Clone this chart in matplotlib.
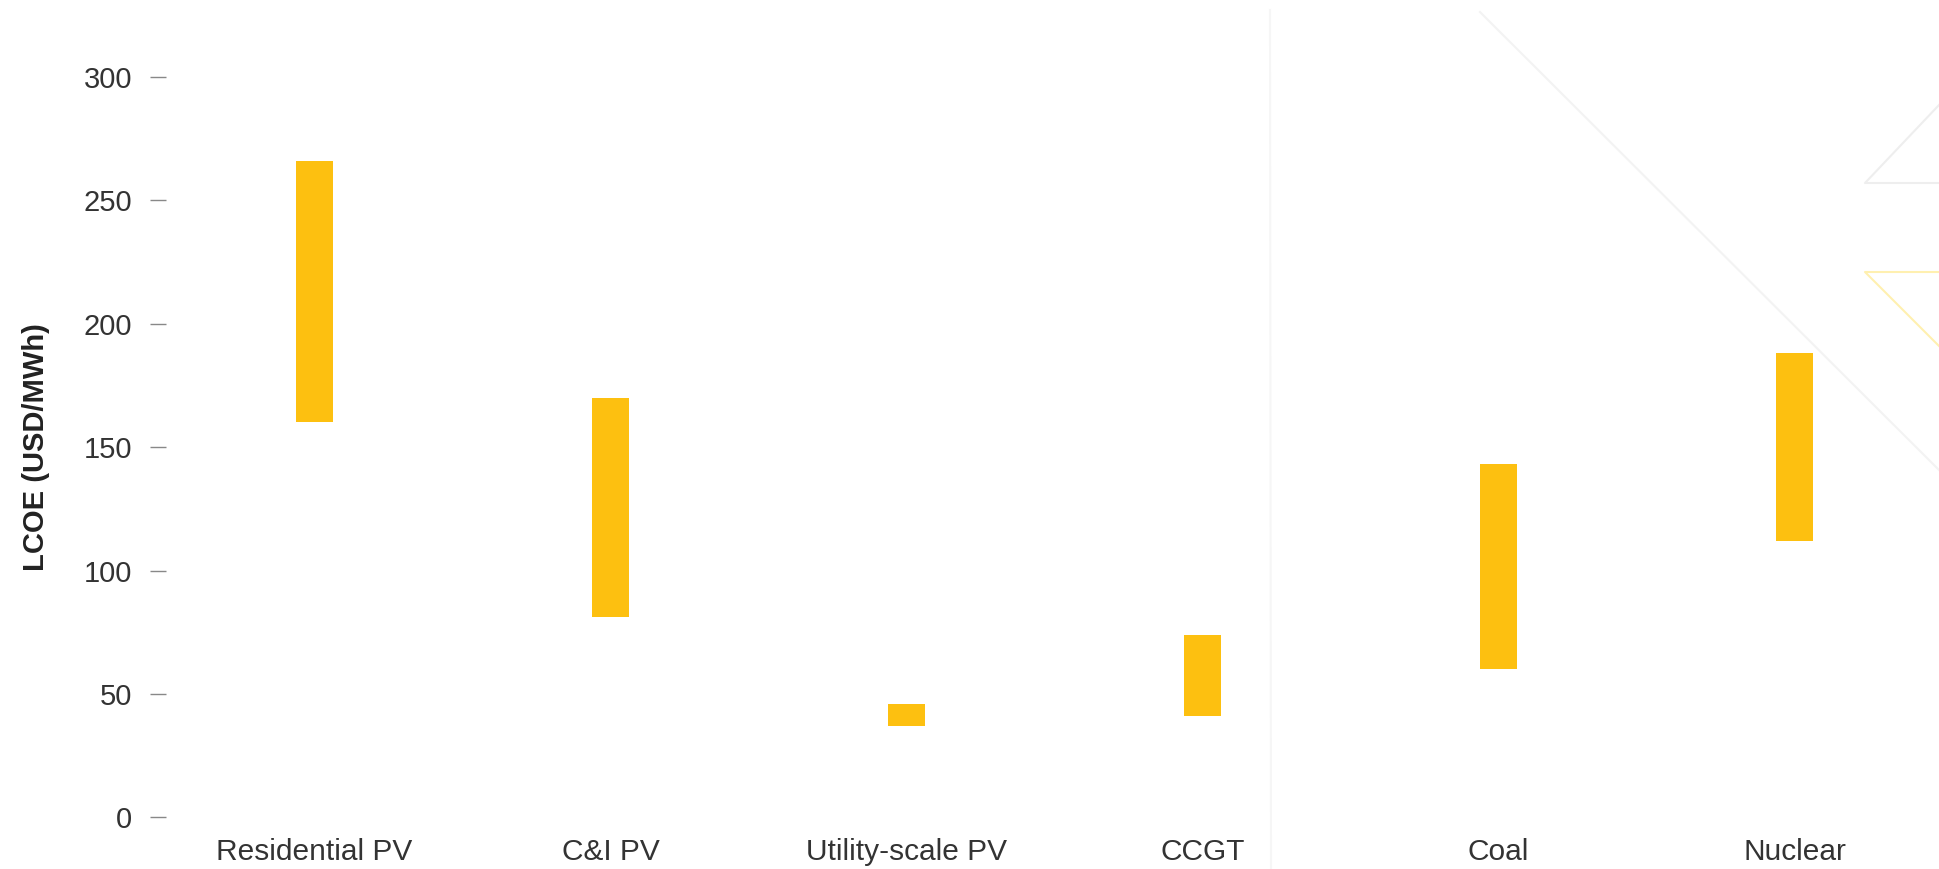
import matplotlib
matplotlib.use("Agg")
import matplotlib.pyplot as plt
from matplotlib.lines import Line2D

# LCOE ranges (USD/MWh)
technologies = ["Residential PV", "C&I PV", "Utility-scale PV", "CCGT", "Coal", "Nuclear"]
lcoe_low = [160, 81, 37, 41, 60, 112]
lcoe_high = [266, 170, 46, 74, 143, 188]
y_ticks = [0, 50, 100, 150, 200, 250, 300]

plt.rcParams['font.family'] = ['Liberation Sans', 'DejaVu Sans']

fig = plt.figure(figsize=(19.39, 8.69), dpi=100)
fig.patch.set_facecolor("white")

# faint background decoration (pixel coords, top-left origin)
deco = [
    ([1270, 1271], [10, 869], "#f6f6f6"),
    ([1480, 1939], [12, 470], "#f3f3f3"),
    ([1939, 1865, 1939], [105, 183, 183], "#eeeeee"),
    ([1939, 1865, 1939], [346, 272, 272], "#fff0b0"),
]
for xs, ys, c in deco:
    fig.add_artist(Line2D([x / 1939 for x in xs], [1 - y / 869 for y in ys],
                          transform=fig.transFigure, color=c, lw=1.5, zorder=0))

ax = fig.add_axes([0.0858, 0.0593, 0.916, 0.8525])
ax.set_facecolor("none")

x = range(len(technologies))
heights = [h - l for l, h in zip(lcoe_low, lcoe_high)]
ax.bar(x, heights, bottom=lcoe_low, width=0.125, color="#FDC010", zorder=3)

ax.set_xlim(-0.5, 5.5)
ax.set_ylim(0, 300)
ax.set_yticks(y_ticks)
ax.set_xticks(list(x))
ax.set_xticklabels(technologies)

for s in ax.spines.values():
    s.set_visible(False)

ax.tick_params(axis='y', direction='out', length=11.5, width=1, color="#888888",
               pad=13, labelsize=21, labelcolor="#333333")
ax.tick_params(axis='x', length=0, pad=15, labelsize=21.5, labelcolor="#333333")

ax.set_ylabel("LCOE (USD/MWh)", fontsize=21, fontweight="bold", color="#222222", labelpad=24)

fig.savefig("out.png", dpi=100, facecolor="white")
